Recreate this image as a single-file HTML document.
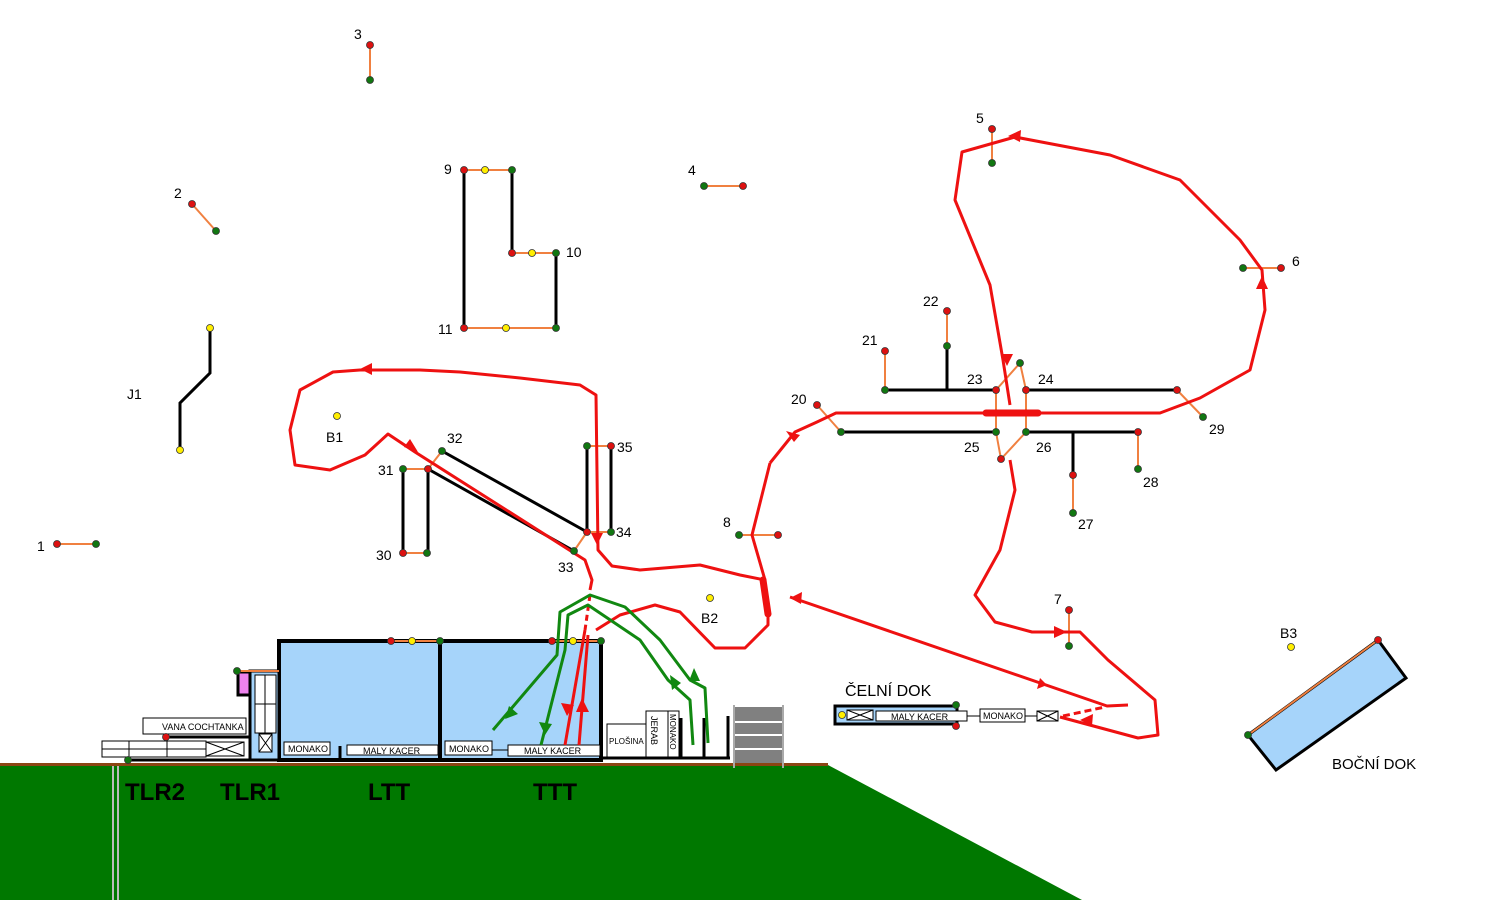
<!DOCTYPE html>
<html><head><meta charset="utf-8"><style>
html,body{margin:0;padding:0;background:#fff}
svg{display:block}
text{font-family:"Liberation Sans",sans-serif}
</style></head><body>
<svg width="1500" height="900" viewBox="0 0 1500 900" xmlns="http://www.w3.org/2000/svg">
<defs>
<marker id="ar" markerWidth="10" markerHeight="10" refX="5" refY="5" orient="auto" markerUnits="userSpaceOnUse"><path d="M0,0 L12,5 L0,10 z" fill="#ee1111"/></marker>
</defs>
<!-- ground -->
<polygon points="0,765 828,765 1082,900 0,900" fill="#007800"/>
<rect x="0" y="763" width="828" height="3" fill="#8b4513"/>
<line x1="113" y1="766" x2="113" y2="900" stroke="#bbb" stroke-width="2"/>
<line x1="118" y1="766" x2="118" y2="900" stroke="#bbb" stroke-width="2"/>
<g font-weight="bold" font-size="24" fill="#000">
<text x="125" y="800">TLR2</text><text x="220" y="800">TLR1</text><text x="368" y="800">LTT</text><text x="533" y="800">TTT</text>
</g>

<!-- buildings -->
<g stroke="#000">
<rect x="279" y="641" width="161" height="119" fill="#a6d4fa" stroke-width="4"/>
<rect x="440" y="641" width="161" height="119" fill="#a6d4fa" stroke-width="4"/>
<rect x="250" y="671" width="29" height="89" fill="#a6d4fa" stroke-width="3"/>
<rect x="238" y="672" width="12" height="23" fill="#ee82ee" stroke-width="3"/>
<rect x="255" y="675" width="21" height="29" fill="#fff" stroke-width="1"/>
<rect x="255" y="704" width="21" height="29" fill="#fff" stroke-width="1"/>
<line x1="265" y1="675" x2="265" y2="733" stroke-width="1"/>
<rect x="259" y="734" width="13" height="18" fill="#fff" stroke-width="1"/>
<path d="M259,734 L272,752 M272,734 L259,752" stroke-width="1" fill="none"/>
<line x1="128" y1="760" x2="250" y2="760" stroke-width="3"/>
<line x1="166" y1="737" x2="250" y2="737" stroke-width="3"/>
<line x1="601" y1="758" x2="730" y2="758" stroke-width="3"/>
<line x1="681" y1="718" x2="681" y2="758" stroke-width="3"/>
<line x1="704" y1="718" x2="704" y2="758" stroke-width="3"/>
<line x1="728" y1="716" x2="728" y2="758" stroke-width="3"/>
<line x1="340" y1="746" x2="340" y2="758" stroke-width="3"/>
</g>
<g stroke="#000" stroke-width="1" fill="#fff">
<rect x="143" y="718" width="103" height="16"/>
<rect x="102" y="741" width="104" height="16"/>
<line x1="102" y1="749" x2="206" y2="749"/><line x1="129" y1="741" x2="129" y2="757"/><line x1="167" y1="741" x2="167" y2="757"/>
<rect x="206" y="742" width="38" height="14"/><path d="M206,742 L244,756 M244,742 L206,756" fill="none"/>
<rect x="284" y="742" width="46" height="13"/>
<rect x="347" y="745" width="91" height="10"/>
<rect x="445" y="741" width="47" height="14"/>
<line x1="492" y1="750" x2="508" y2="750"/>
<rect x="508" y="745" width="92" height="11"/>
<rect x="607" y="724" width="39" height="33"/>
<rect x="646" y="711" width="22" height="46"/>
<rect x="668" y="711" width="11" height="46"/>
</g>
<g font-size="9" fill="#000">
<text x="162" y="730">VANA COCHTANKA</text>
<text x="288" y="752">MONAKO</text>
<text x="363" y="754">MALY KACER</text>
<text x="449" y="752">MONAKO</text>
<text x="524" y="754">MALY KACER</text>
<text x="609" y="744" font-size="8">PLOŠINA</text>
<text transform="translate(651,716) rotate(90)">JERAB</text>
<text transform="translate(670,714) rotate(90)" font-size="8">MONAKO</text>
</g>
<rect x="735" y="707" width="47" height="56" fill="#808080"/>
<g stroke="#fff" stroke-width="2"><line x1="735" y1="722" x2="782" y2="722"/><line x1="735" y1="735" x2="782" y2="735"/><line x1="735" y1="749" x2="782" y2="749"/></g>
<g stroke="#aaa" stroke-width="2"><line x1="734" y1="705" x2="734" y2="768"/><line x1="783" y1="705" x2="783" y2="768"/></g>

<!-- orange links near buildings -->
<g stroke="#f08040" stroke-width="2">
<line x1="237" y1="671" x2="279" y2="671"/>
<line x1="391" y1="641" x2="440" y2="641"/>
<line x1="552" y1="641" x2="601" y2="641"/>
</g>

<!-- docks -->
<rect x="835" y="706" width="122" height="18" fill="#a6d4fa" stroke="#000" stroke-width="3"/>
<g stroke="#000" stroke-width="1" fill="#fff">
<rect x="847" y="710" width="26" height="10"/><path d="M847,710 L873,720 M873,710 L847,720" fill="none"/>
<rect x="876" y="711" width="91" height="10"/>
<line x1="967" y1="716" x2="980" y2="716"/>
<rect x="980" y="709" width="45" height="13"/>
<line x1="1025" y1="716" x2="1037" y2="716"/>
<rect x="1037" y="711" width="21" height="10"/><path d="M1037,711 L1058,721 M1058,711 L1037,721" fill="none"/>
</g>
<g font-size="9" fill="#000"><text x="891" y="720">MALY KACER</text><text x="983" y="719">MONAKO</text></g>
<text x="845" y="696" font-size="16" fill="#000">ČELNÍ DOK</text>
<polygon points="1248,735 1378,640 1406,678 1276,770" fill="#a6d4fa" stroke="#000" stroke-width="3"/>
<line x1="1248" y1="735" x2="1378" y2="640" stroke="#f08040" stroke-width="2"/>
<text x="1332" y="769" font-size="15" fill="#000">BOČNÍ DOK</text>

<!-- black tracks -->
<g stroke="#000" stroke-width="3" fill="none">
<polyline points="210,328 210,373 180,403 180,450"/>
<line x1="464" y1="170" x2="464" y2="328"/>
<line x1="512" y1="170" x2="512" y2="253"/>
<line x1="556" y1="253" x2="556" y2="328"/>
<line x1="403" y1="469" x2="403" y2="553"/>
<line x1="428" y1="469" x2="428" y2="553"/>
<line x1="428" y1="469" x2="574" y2="551"/>
<line x1="442" y1="451" x2="587" y2="532"/>
<line x1="587" y1="446" x2="587" y2="532"/>
<line x1="611" y1="446" x2="611" y2="532"/>
<line x1="885" y1="390" x2="996" y2="390"/>
<line x1="1026" y1="390" x2="1177" y2="390"/>
<line x1="947" y1="346" x2="947" y2="390"/>
<line x1="841" y1="432" x2="996" y2="432"/>
<line x1="1026" y1="432" x2="1138" y2="432"/>
<line x1="1073" y1="432" x2="1073" y2="475"/>
</g>
<!-- orange links -->
<g stroke="#f08040" stroke-width="2" fill="none">
<line x1="370" y1="45" x2="370" y2="80"/>
<line x1="192" y1="204" x2="216" y2="231"/>
<line x1="704" y1="186" x2="743" y2="186"/>
<line x1="57" y1="544" x2="96" y2="544"/>
<line x1="992" y1="129" x2="992" y2="163"/>
<line x1="1243" y1="268" x2="1281" y2="268"/>
<line x1="1069" y1="610" x2="1069" y2="646"/>
<line x1="739" y1="535" x2="778" y2="535"/>
<line x1="464" y1="170" x2="512" y2="170"/>
<line x1="512" y1="253" x2="556" y2="253"/>
<line x1="464" y1="328" x2="556" y2="328"/>
<line x1="403" y1="469" x2="428" y2="469"/>
<line x1="403" y1="553" x2="427" y2="553"/>
<line x1="428" y1="469" x2="442" y2="451"/>
<line x1="587" y1="532" x2="574" y2="551"/>
<line x1="587" y1="446" x2="611" y2="446"/>
<line x1="587" y1="532" x2="611" y2="532"/>
<line x1="885" y1="351" x2="885" y2="390"/>
<line x1="947" y1="311" x2="947" y2="346"/>
<line x1="817" y1="405" x2="841" y2="432"/>
<line x1="1177" y1="390" x2="1203" y2="417"/>
<line x1="1138" y1="432" x2="1138" y2="469"/>
<line x1="1073" y1="475" x2="1073" y2="513"/>
<polyline points="996,390 1020,363 1026,390"/>
<line x1="996" y1="390" x2="996" y2="432"/>
<line x1="1026" y1="390" x2="1026" y2="432"/>
<polyline points="996,432 1001,459 1026,432"/>
</g>

<!-- red routes -->
<g stroke="#ee1111" stroke-width="3" fill="none" stroke-linejoin="round">
<polyline points="770,463 795,432 817,422 836,413 1160,413 1200,398 1250,370 1265,310 1262,270 1240,240 1180,180 1110,155 1015,137 962,152 955,200 990,285 1003,360 1010,405"/>
<polyline points="1010,460 1015,490 1000,550 975,595 995,622 1032,632 1080,632 1108,660 1155,700 1158,735 1138,738 1060,717"/>
<polyline points="1128,705 1107,706 790,597"/>
<line x1="1063" y1="716" x2="1105" y2="707" stroke-dasharray="7,4"/>
<polyline points="765,580 752,535 770,463"/>
<polyline points="768,615 768,625 745,648 715,648 680,612 655,605 620,615 596,630"/>
<polyline points="765,580 740,575 700,565 640,570 612,566 598,550 596,395 580,385 520,378 460,372 420,370 360,370 333,372 300,390 290,430 295,465 330,470 365,455 388,434 415,452 585,560 592,580 590,590"/>
<line x1="590" y1="595" x2="585" y2="630" stroke-dasharray="6,4"/>
<line x1="585" y1="630" x2="565" y2="745"/>
<line x1="588" y1="635" x2="579" y2="745"/>
</g>
<g stroke="#ee1111" stroke-width="7" stroke-linecap="round">
<line x1="986" y1="413" x2="1038" y2="413"/>
<line x1="763" y1="580" x2="768" y2="614"/>
</g>
<!-- red arrowheads -->
<g fill="#ee1111">
<polygon points="360,369 372,363 372,375"/>
<polygon points="418,452 404,447 410,439"/>
<polygon points="597,545 591,533 603,533"/>
<polygon points="790,598 802,592 801,604"/>
<polygon points="800,435 786,431 794,442"/>
<polygon points="1047,685 1040,678 1037,689"/>
<polygon points="1080,720 1093,714 1092,726"/>
<polygon points="1067,632 1054,626 1054,638"/>
<polygon points="1262,276 1256,289 1268,289"/>
<polygon points="1007,366 1001,354 1013,354"/>
<polygon points="1008,136 1021,130 1020,142"/>
<polygon points="567,716 561,703 574,705"/>
<polygon points="582,698 576,712 589,712"/>
</g>

<!-- green routes -->
<g stroke="#118811" stroke-width="3" fill="none" stroke-linejoin="round">
<polyline points="493,730 557,655 560,612 590,595 625,607 660,640 690,680 705,688 708,743"/>
<polyline points="541,745 565,650 568,615 588,605 640,640 668,680 690,700 693,745"/>
</g>
<g fill="#118811">
<polygon points="505,719 509,706 518,714"/>
<polygon points="545,735 539,722 552,724"/>
<polygon points="670,675 681,683 672,690"/>
<polygon points="694,668 689,681 700,681"/>
</g>

<!-- nodes -->
<g stroke="#333" stroke-width="0.8">
<g fill="#dd1111">
<circle cx="370" cy="45" r="3.5"/><circle cx="192" cy="204" r="3.5"/><circle cx="743" cy="186" r="3.5"/><circle cx="57" cy="544" r="3.5"/>
<circle cx="992" cy="129" r="3.5"/><circle cx="1281" cy="268" r="3.5"/><circle cx="1069" cy="610" r="3.5"/><circle cx="778" cy="535" r="3.5"/>
<circle cx="464" cy="170" r="3.5"/><circle cx="512" cy="253" r="3.5"/><circle cx="464" cy="328" r="3.5"/>
<circle cx="428" cy="469" r="3.5"/><circle cx="403" cy="553" r="3.5"/><circle cx="587" cy="532" r="3.5"/><circle cx="611" cy="446" r="3.5"/>
<circle cx="885" cy="351" r="3.5"/><circle cx="947" cy="311" r="3.5"/><circle cx="817" cy="405" r="3.5"/><circle cx="996" cy="390" r="3.5"/>
<circle cx="1026" cy="390" r="3.5"/><circle cx="1177" cy="390" r="3.5"/><circle cx="1138" cy="432" r="3.5"/><circle cx="1073" cy="475" r="3.5"/><circle cx="1001" cy="459" r="3.5"/>
<circle cx="391" cy="641" r="3.5"/><circle cx="552" cy="641" r="3.5"/><circle cx="166" cy="737" r="3.5"/>
<circle cx="956" cy="726" r="3.5"/><circle cx="1378" cy="640" r="3.5"/>
</g>
<g fill="#117711">
<circle cx="370" cy="80" r="3.5"/><circle cx="216" cy="231" r="3.5"/><circle cx="704" cy="186" r="3.5"/><circle cx="96" cy="544" r="3.5"/>
<circle cx="992" cy="163" r="3.5"/><circle cx="1243" cy="268" r="3.5"/><circle cx="1069" cy="646" r="3.5"/><circle cx="739" cy="535" r="3.5"/>
<circle cx="512" cy="170" r="3.5"/><circle cx="556" cy="253" r="3.5"/><circle cx="556" cy="328" r="3.5"/>
<circle cx="403" cy="469" r="3.5"/><circle cx="427" cy="553" r="3.5"/><circle cx="442" cy="451" r="3.5"/><circle cx="574" cy="551" r="3.5"/>
<circle cx="587" cy="446" r="3.5"/><circle cx="611" cy="532" r="3.5"/>
<circle cx="885" cy="390" r="3.5"/><circle cx="947" cy="346" r="3.5"/><circle cx="841" cy="432" r="3.5"/><circle cx="996" cy="432" r="3.5"/>
<circle cx="1026" cy="432" r="3.5"/><circle cx="1020" cy="363" r="3.5"/><circle cx="1203" cy="417" r="3.5"/><circle cx="1138" cy="469" r="3.5"/><circle cx="1073" cy="513" r="3.5"/>
<circle cx="440" cy="641" r="3.5"/><circle cx="601" cy="641" r="3.5"/><circle cx="237" cy="671" r="3.5"/><circle cx="128" cy="760" r="3.5"/>
<circle cx="956" cy="705" r="3.5"/><circle cx="1248" cy="735" r="3.5"/>
</g>
<g fill="#ffee00">
<circle cx="210" cy="328" r="3.5"/><circle cx="180" cy="450" r="3.5"/><circle cx="337" cy="416" r="3.5"/><circle cx="710" cy="598" r="3.5"/><circle cx="1291" cy="647" r="3.5"/>
<circle cx="485" cy="170" r="3.5"/><circle cx="532" cy="253" r="3.5"/><circle cx="506" cy="328" r="3.5"/>
<circle cx="412" cy="641" r="3.5"/><circle cx="573" cy="641" r="3.5"/><circle cx="842" cy="715" r="3.5"/>
</g>
</g>

<!-- labels -->
<g font-size="14" fill="#000">
<text x="354" y="39">3</text><text x="174" y="198">2</text><text x="688" y="175">4</text><text x="37" y="551">1</text>
<text x="976" y="123">5</text><text x="1292" y="266">6</text><text x="1054" y="604">7</text><text x="723" y="527">8</text>
<text x="127" y="399">J1</text><text x="326" y="442">B1</text><text x="701" y="623">B2</text><text x="1280" y="638">B3</text>
<text x="444" y="174">9</text><text x="566" y="257">10</text><text x="438" y="334">11</text>
<text x="447" y="443">32</text><text x="378" y="475">31</text><text x="376" y="560">30</text><text x="558" y="572">33</text>
<text x="617" y="452">35</text><text x="616" y="537">34</text>
<text x="862" y="345">21</text><text x="923" y="306">22</text><text x="967" y="384">23</text><text x="1038" y="384">24</text>
<text x="964" y="452">25</text><text x="1036" y="452">26</text><text x="791" y="404">20</text><text x="1209" y="434">29</text>
<text x="1143" y="487">28</text><text x="1078" y="529">27</text>
</g>
</svg>
</body></html>
